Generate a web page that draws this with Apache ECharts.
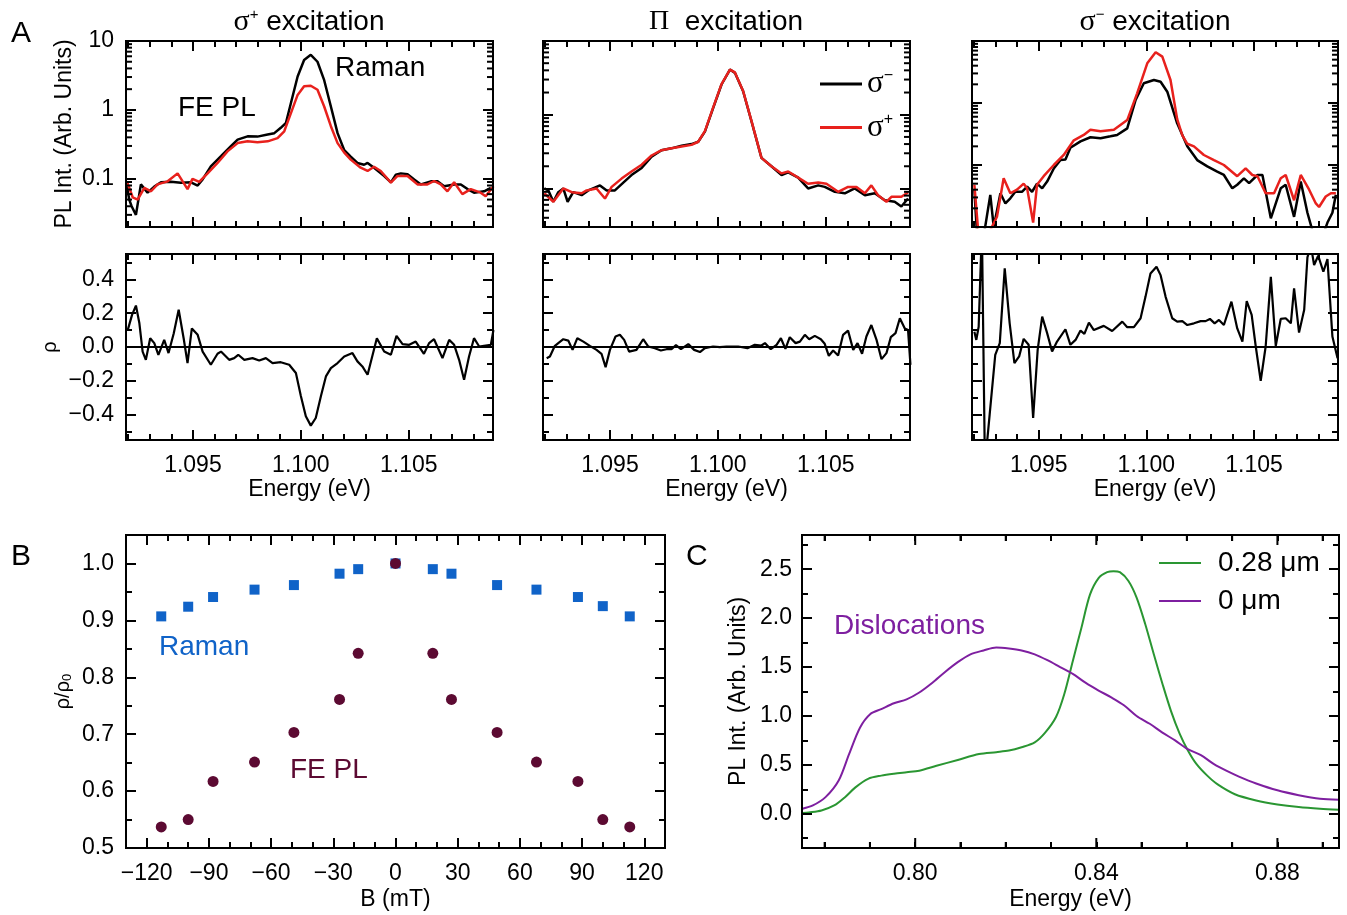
<!DOCTYPE html>
<html>
<head>
<meta charset="utf-8">
<script src="https://cdn.jsdelivr.net/npm/echarts@6/dist/echarts.min.js"></script>
<style>
  html, body { margin: 0; padding: 0; background: #fff; }
  #main { width: 1347px; height: 915px; }
</style>
</head>
<body>
<div id="main"></div>
<script>
// ---- data ----
// panel A, top row: PL intensity, [energy eV, intensity]
const a1Minus = [[1.09194,0.078],[1.09205,0.05],[1.09216,0.04],[1.09236,0.03],[1.09259,0.083],[1.0929,0.063],[1.09321,0.077],[1.09352,0.089],[1.09398,0.091],[1.09444,0.088],[1.09491,0.089],[1.09522,0.08],[1.09545,0.098],[1.09583,0.152],[1.0963,0.213],[1.09676,0.297],[1.09707,0.37],[1.09753,0.414],[1.09799,0.41],[1.09846,0.44],[1.09877,0.46],[1.09907,0.55],[1.09931,0.65],[1.09954,1.26],[1.09985,3.05],[1.10015,5.3],[1.10046,6.3],[1.10077,5.0],[1.10108,2.7],[1.10139,1.12],[1.1017,0.46],[1.10201,0.26],[1.10231,0.21],[1.10262,0.17],[1.10293,0.16],[1.10309,0.17],[1.10339,0.145],[1.10386,0.11],[1.10417,0.089],[1.1044,0.115],[1.10463,0.12],[1.10494,0.117],[1.10525,0.098],[1.10556,0.083],[1.10602,0.092],[1.10633,0.092],[1.10664,0.078],[1.1071,0.083],[1.10741,0.083],[1.10772,0.071],[1.10802,0.063],[1.10849,0.066],[1.1088,0.074]];
const a1Plus = [[1.09194,0.092],[1.09221,0.054],[1.09244,0.05],[1.09275,0.074],[1.09306,0.066],[1.09336,0.083],[1.09383,0.092],[1.09429,0.12],[1.09475,0.071],[1.09498,0.1],[1.09529,0.09],[1.09568,0.12],[1.09614,0.17],[1.0966,0.25],[1.09707,0.33],[1.09753,0.35],[1.09799,0.34],[1.09846,0.35],[1.09892,0.39],[1.09923,0.49],[1.09954,0.9],[1.09985,1.65],[1.10015,2.2],[1.10046,2.24],[1.10077,1.96],[1.10108,1.12],[1.10139,0.58],[1.1017,0.33],[1.10201,0.24],[1.10231,0.19],[1.10277,0.145],[1.10309,0.13],[1.10339,0.15],[1.1037,0.13],[1.10417,0.088],[1.10448,0.11],[1.10494,0.11],[1.1054,0.083],[1.10586,0.083],[1.10617,0.093],[1.10648,0.083],[1.10679,0.066],[1.1071,0.089],[1.10748,0.06],[1.10787,0.071],[1.10833,0.063],[1.10856,0.056],[1.10892,0.078]];
const a2Minus = [[1.09196,0.1],[1.09215,0.094],[1.09238,0.066],[1.09261,0.089],[1.09284,0.1],[1.09304,0.066],[1.0933,0.089],[1.09369,0.081],[1.094,0.094],[1.09454,0.11],[1.09485,0.094],[1.09523,0.094],[1.09562,0.12],[1.096,0.152],[1.09647,0.19],[1.09693,0.27],[1.09739,0.33],[1.09785,0.35],[1.09832,0.38],[1.09878,0.4],[1.09909,0.43],[1.0994,0.59],[1.09978,1.23],[1.10017,2.57],[1.10056,4.1],[1.10079,3.7],[1.10117,2.08],[1.10156,0.81],[1.10202,0.26],[1.10248,0.2],[1.10295,0.152],[1.10326,0.165],[1.10372,0.14],[1.10418,0.1],[1.10465,0.11],[1.10495,0.105],[1.10542,0.09],[1.10588,0.086],[1.10634,0.1],[1.10681,0.081],[1.10727,0.086],[1.10773,0.069],[1.10819,0.066],[1.1085,0.057],[1.10881,0.073]];
const a2Plus = [[1.09196,0.086],[1.09238,0.066],[1.09284,0.1],[1.09323,0.089],[1.09369,0.086],[1.09392,0.094],[1.09438,0.1],[1.09477,0.073],[1.09508,0.105],[1.09554,0.136],[1.096,0.17],[1.09647,0.21],[1.09693,0.28],[1.09739,0.33],[1.09785,0.35],[1.09832,0.37],[1.09878,0.39],[1.09909,0.43],[1.0994,0.6],[1.09978,1.25],[1.10017,2.6],[1.10056,4.1],[1.10079,3.75],[1.10117,2.1],[1.10156,0.82],[1.10202,0.26],[1.10248,0.2],[1.10295,0.16],[1.10326,0.17],[1.10372,0.14],[1.10418,0.116],[1.10465,0.12],[1.10503,0.116],[1.10557,0.09],[1.10603,0.105],[1.10642,0.105],[1.10681,0.086],[1.10711,0.11],[1.10742,0.081],[1.10781,0.066],[1.10804,0.077],[1.1085,0.077],[1.10881,0.088]];
const a3Minus = [[1.09201,0.04],[1.09213,0.008],[1.09244,0.007],[1.09275,0.033],[1.09291,0.01],[1.09322,0.035],[1.09345,0.024],[1.09368,0.029],[1.09391,0.037],[1.09422,0.037],[1.09446,0.045],[1.09469,0.037],[1.09492,0.05],[1.09516,0.042],[1.09539,0.054],[1.0957,0.088],[1.09601,0.12],[1.09624,0.123],[1.09647,0.19],[1.09694,0.24],[1.0974,0.28],[1.09787,0.27],[1.09833,0.29],[1.09864,0.305],[1.09911,0.39],[1.0995,1.12],[1.09988,2.08],[1.10035,2.35],[1.10066,2.2],[1.10097,1.52],[1.10143,0.47],[1.1019,0.2],[1.10236,0.12],[1.10283,0.095],[1.10329,0.078],[1.1036,0.069],[1.10399,0.042],[1.10422,0.048],[1.10453,0.061],[1.10477,0.051],[1.10516,0.069],[1.10539,0.069],[1.10578,0.0138],[1.10624,0.042],[1.10647,0.048],[1.10686,0.0146],[1.10717,0.054],[1.10748,0.017],[1.10779,0.007],[1.10818,0.007],[1.10841,0.0118],[1.10864,0.017],[1.1088,0.033]];
const a3Plus = [[1.09201,0.048],[1.09221,0.007],[1.0926,0.007],[1.09306,0.0146],[1.09337,0.061],[1.09368,0.035],[1.09399,0.04],[1.0943,0.05],[1.09446,0.042],[1.09474,0.0118],[1.09492,0.048],[1.09523,0.066],[1.0957,0.1],[1.09616,0.145],[1.09663,0.25],[1.09709,0.305],[1.0974,0.37],[1.09787,0.35],[1.09849,0.37],[1.09911,0.53],[1.09957,1.43],[1.10004,4.36],[1.10043,6.6],[1.10074,5.6],[1.10112,2.35],[1.10143,0.55],[1.10167,0.3],[1.1019,0.22],[1.10221,0.2],[1.10267,0.145],[1.10314,0.12],[1.1036,0.1],[1.10422,0.066],[1.10461,0.088],[1.10492,0.069],[1.10516,0.066],[1.10554,0.035],[1.10593,0.035],[1.10624,0.061],[1.10647,0.069],[1.10686,0.027],[1.10717,0.069],[1.10756,0.04],[1.10787,0.024],[1.10802,0.021],[1.10833,0.031],[1.10857,0.035],[1.1088,0.035]];

// panel A, bottom row: polarization rho, [energy eV, rho]
const rho1 = [[1.09198,0.1],[1.09218,0.19],[1.09236,0.245],[1.09252,0.14],[1.09267,-0.027],[1.09282,-0.076],[1.09302,0.052],[1.09321,0.023],[1.0934,-0.046],[1.09367,0.042],[1.09387,-0.036],[1.09411,0.08],[1.09434,0.22],[1.09457,0.052],[1.09475,-0.095],[1.09495,0.11],[1.09522,0.072],[1.09545,-0.027],[1.09583,-0.105],[1.09614,-0.04],[1.0963,-0.027],[1.09668,-0.076],[1.09691,-0.066],[1.0971,-0.046],[1.09738,-0.076],[1.09776,-0.066],[1.09807,-0.08],[1.09838,-0.066],[1.09869,-0.095],[1.09907,-0.09],[1.09946,-0.105],[1.09977,-0.154],[1.1,-0.29],[1.10023,-0.41],[1.10046,-0.465],[1.10069,-0.42],[1.10093,-0.29],[1.10116,-0.174],[1.10139,-0.125],[1.1017,-0.095],[1.10201,-0.056],[1.10239,-0.036],[1.10262,-0.085],[1.10285,-0.115],[1.10309,-0.164],[1.10352,0.052],[1.10386,-0.027],[1.10417,-0.046],[1.10443,0.066],[1.10471,0.017],[1.10502,0.013],[1.10532,0.032],[1.1057,-0.04],[1.10594,0.023],[1.10617,0.046],[1.10656,-0.066],[1.10687,0.042],[1.1071,0.013],[1.10733,-0.076],[1.10756,-0.194],[1.10779,-0.056],[1.10802,0.052],[1.10826,0.003],[1.10856,0.009],[1.1088,0.013],[1.10892,0.1]];
const rho2 = [[1.09207,-0.066],[1.09222,-0.056],[1.09245,0.007],[1.09284,0.046],[1.09307,0.038],[1.09327,-0.017],[1.09349,0.052],[1.09377,0.032],[1.09407,0.007],[1.09438,-0.017],[1.09461,-0.04],[1.0948,-0.119],[1.095,-0.017],[1.09526,0.062],[1.09546,0.072],[1.09566,0.042],[1.09589,-0.027],[1.09623,-0.017],[1.09654,0.046],[1.09677,0.003],[1.09708,-0.007],[1.09736,-0.021],[1.09762,-0.013],[1.09785,-0.013],[1.09806,0.011],[1.09829,-0.013],[1.09863,0.017],[1.0989,-0.017],[1.09917,-0.03],[1.0994,-0.007],[1.09978,0.003],[1.10009,-0.001],[1.1004,0.003],[1.10094,0.003],[1.10137,-0.007],[1.10171,0.013],[1.10202,0.009],[1.10218,0.023],[1.10245,-0.013],[1.10272,0.013],[1.10292,0.052],[1.10313,-0.011],[1.10333,0.058],[1.1036,0.023],[1.1038,0.032],[1.10403,0.072],[1.10423,0.046],[1.10449,0.066],[1.10477,0.046],[1.10495,0.019],[1.10514,-0.052],[1.10534,-0.021],[1.10557,-0.05],[1.1058,0.072],[1.10603,0.097],[1.10627,-0.017],[1.10647,0.023],[1.10668,-0.04],[1.10688,0.062],[1.10711,0.13],[1.10735,0.042],[1.10758,-0.072],[1.10781,-0.036],[1.10801,0.058],[1.10823,0.082],[1.10843,0.17],[1.10866,0.11],[1.10881,0.1],[1.10892,-0.105]];
const rho3 = [[1.09201,0.09],[1.0921,0.042],[1.09221,0.12],[1.09236,0.7],[1.0925,-0.7],[1.09272,-0.4],[1.09298,-0.046],[1.09319,0.023],[1.09342,0.465],[1.09365,0.14],[1.09387,-0.095],[1.09409,-0.056],[1.0943,0.048],[1.09453,0.013],[1.09474,-0.42],[1.09495,-0.017],[1.09516,0.18],[1.09539,0.082],[1.09562,-0.027],[1.09585,0.032],[1.09624,0.105],[1.09647,0.013],[1.09671,0.042],[1.09694,0.097],[1.09712,0.078],[1.09733,0.144],[1.09756,0.1],[1.09802,0.125],[1.09841,0.095],[1.09888,0.15],[1.09911,0.117],[1.09942,0.117],[1.09973,0.17],[1.09996,0.298],[1.10019,0.435],[1.10047,0.475],[1.10066,0.425],[1.10089,0.298],[1.1012,0.17],[1.10143,0.15],[1.10167,0.153],[1.1019,0.13],[1.10221,0.14],[1.10252,0.153],[1.10275,0.153],[1.10295,0.166],[1.10317,0.14],[1.10337,0.16],[1.1036,0.13],[1.10395,0.268],[1.10422,0.11],[1.10446,0.032],[1.10466,0.272],[1.10489,0.19],[1.10508,0.003],[1.10531,-0.2],[1.10554,0.003],[1.10578,0.415],[1.10601,0.007],[1.10624,0.166],[1.10647,0.17],[1.10671,0.14],[1.10686,0.347],[1.10709,0.085],[1.10733,0.22],[1.10748,0.53],[1.10764,0.6],[1.10779,0.485],[1.10798,0.54],[1.10822,0.445],[1.10841,0.52],[1.10864,0.062],[1.10888,-0.066]];

// panel B: normalized polarization vs field
const bField = [-113, -100, -88, -68, -49, -27, -18, 0, 18, 27, 49, 68, 88, 100, 113];
const ramanRho = [0.907, 0.924, 0.941, 0.954, 0.962, 0.982, 0.990, 1.0, 0.990, 0.982, 0.962, 0.954, 0.941, 0.925, 0.907];
const feplRho = [0.537, 0.550, 0.617, 0.651, 0.703, 0.761, 0.842, 1.0, 0.842, 0.761, 0.703, 0.651, 0.617, 0.550, 0.537];

// panel C: PL spectra, [energy eV, intensity]
const pl028 = [[0.7751,0.007],[0.7765,0.014],[0.7793,0.034],[0.7821,0.085],[0.7845,0.17],[0.7868,0.27],[0.7896,0.357],[0.7925,0.39],[0.7953,0.41],[0.7981,0.425],[0.8009,0.44],[0.8047,0.49],[0.8094,0.55],[0.8141,0.61],[0.8179,0.63],[0.8207,0.646],[0.8235,0.68],[0.8264,0.73],[0.8287,0.83],[0.8311,0.99],[0.8329,1.22],[0.8348,1.56],[0.8367,1.9],[0.8386,2.24],[0.8405,2.41],[0.8424,2.47],[0.8438,2.48],[0.8452,2.47],[0.8471,2.38],[0.8489,2.21],[0.8508,1.94],[0.8527,1.63],[0.8546,1.33],[0.8565,1.05],[0.8584,0.82],[0.8602,0.65],[0.8621,0.51],[0.8645,0.39],[0.8668,0.3],[0.8706,0.2],[0.8753,0.136],[0.88,0.095],[0.8847,0.068],[0.8894,0.051],[0.8936,0.041]];
const pl0 = [[0.7751,0.051],[0.7774,0.085],[0.7802,0.17],[0.7831,0.34],[0.7854,0.61],[0.7878,0.88],[0.7901,1.02],[0.7925,1.07],[0.7953,1.13],[0.7981,1.17],[0.8009,1.24],[0.8038,1.34],[0.8066,1.45],[0.8094,1.55],[0.8122,1.63],[0.8151,1.67],[0.8179,1.7],[0.8207,1.69],[0.8235,1.67],[0.8264,1.63],[0.8292,1.57],[0.832,1.5],[0.8348,1.43],[0.8376,1.34],[0.8405,1.26],[0.8433,1.19],[0.8461,1.11],[0.8489,1.0],[0.8518,0.92],[0.8546,0.83],[0.8574,0.75],[0.8602,0.66],[0.8631,0.6],[0.8659,0.51],[0.8687,0.44],[0.8715,0.38],[0.8753,0.31],[0.88,0.24],[0.8847,0.19],[0.8894,0.153],[0.8936,0.143]];

// tick values
const logMinorTicks = [0.02,0.03,0.04,0.05,0.06,0.07,0.08,0.09,0.2,0.3,0.4,0.5,0.6,0.7,0.8,0.9,2,3,4,5,6,7,8,9];
const cEnergyMajor = [0.80, 0.84, 0.88];
const cEnergyMinor = [0.78, 0.79, 0.81, 0.82, 0.83, 0.85, 0.86, 0.87, 0.89];
const logMins = [0.02, 0.03, 0.01];

// ---- style ----
const FONT = '"Liberation Sans", Arial, sans-serif';
const SERIF = '"Liberation Serif", "DejaVu Serif", serif';
const RED = '#e8211d', BLUE = '#1063c8', MAROON = '#5c0a32', GREEN = '#2a9632', PURPLE = '#7e1fa0';

const panels = [
  { left: 126, top: 41,  width: 367, height: 186 },
  { left: 543, top: 41,  width: 367, height: 186 },
  { left: 972, top: 41,  width: 366, height: 186 },
  { left: 126, top: 254, width: 367, height: 186 },
  { left: 543, top: 254, width: 367, height: 186 },
  { left: 972, top: 254, width: 366, height: 186 },
  { left: 126, top: 535, width: 539, height: 313 },
  { left: 802, top: 535, width: 537, height: 313 }
];

const xAxis = [], yAxis = [];
function tickStyle(len) {
  return { show: true, inside: true, length: len, lineStyle: { color: '#000', width: 2 } };
}
function makeAxis(gi, pos, o, withLabels) {
  const a = {
    type: o.type || 'value', gridIndex: gi, position: pos, min: o.min, max: o.max,
    axisLine: { show: true, onZero: false, lineStyle: { color: '#000', width: 2 } },
    axisTick: tickStyle(o.tickLen || 10),
    minorTick: o.minor ? { show: true, splitNumber: o.minor, length: 6, lineStyle: { color: '#000', width: 2 } } : { show: false },
    splitLine: { show: false }, minorSplitLine: { show: false },
    axisLabel: { show: !!withLabels, color: '#000', fontFamily: FONT, fontSize: 23, margin: o.margin || 12,
      showMinLabel: !!o.showMin, showMaxLabel: !!o.showMax },
    z: 6
  };
  if (o.zlevel) a.zlevel = o.zlevel;
  if (o.split) a.splitNumber = o.split;
  if (o.logBase) a.logBase = o.logBase;
  if (o.fmt) a.axisLabel.formatter = o.fmt;
  if (withLabels && o.name) {
    a.name = o.name; a.nameLocation = 'middle'; a.nameGap = o.gap;
    a.nameTextStyle = Object.assign({ color: '#000', fontFamily: FONT, fontSize: 23 }, o.nameStyle || {});
  }
  return a;
}
function addX(gi, o, withLabels) {
  xAxis.push(makeAxis(gi, 'bottom', o, withLabels));
  const idx = xAxis.length - 1;
  xAxis.push(makeAxis(gi, 'top', o, false));
  return idx;
}
function addY(gi, o, withLabels) {
  yAxis.push(makeAxis(gi, 'left', o, withLabels));
  const idx = yAxis.length - 1;
  yAxis.push(makeAxis(gi, 'right', o, false));
  return idx;
}
const minusFmt = d => v => (v < -1e-9 ? '\u2212' : '') + Math.abs(v).toFixed(d);

// tick marks placed through the axis scale on both opposite edges of a grid
function tickSeries(xi, yi, values, dir, len, anchor, zlevel) {
  return {
    type: 'custom', xAxisIndex: xi, yAxisIndex: yi, silent: true, z: 8, zlevel: zlevel || 0, clip: false,
    data: values.map(v => dir === 'y' ? [anchor, v] : [v, anchor]),
    renderItem: function (params, api) {
      const cs = params.coordSys;
      const p = api.coord([api.value(0), api.value(1)]);
      if (dir === 'y') {
        const st = { stroke: '#000', lineWidth: 2, fill: null };
        return { type: 'group', children: [
          { type: 'line', shape: { x1: cs.x, y1: p[1], x2: cs.x + len, y2: p[1] }, style: st },
          { type: 'line', shape: { x1: cs.x + cs.width - len, y1: p[1], x2: cs.x + cs.width, y2: p[1] }, style: st }
        ] };
      }
      return { type: 'group', children: [
        { type: 'rect', shape: { x: p[0] - 1, y: cs.y + cs.height - len, width: 2, height: len }, style: { fill: '#000' } },
        { type: 'rect', shape: { x: p[0] - 1, y: cs.y, width: 2, height: len }, style: { fill: '#000' } }
      ] };
    }
  };
}

const energyAxis = { min: 1.0919, max: 1.1089, split: 3, minor: 5, fmt: v => v.toFixed(3),
  name: 'Energy (eV)', gap: 38, margin: 14 };
const rhoAxis = { min: -0.55, max: 0.55, split: 5, minor: 2, fmt: minusFmt(1),
  name: '\u03c1', gap: 66, nameStyle: { fontSize: 20 } };

const series = [];

// top row: log spectra
const topPairs = [[a1Minus, a1Plus], [a2Minus, a2Plus], [a3Minus, a3Plus]];
for (let i = 0; i < 3; i++) {
  const xi = addX(i, energyAxis, false);
  const yi = addY(i, {
    type: 'log', logBase: 10, min: logMins[i], max: 10, showMax: true,
    fmt: v => (v >= 1 ? v.toFixed(0) : v.toFixed(1)),
    name: 'PL Int. (Arb. Units)', gap: 50
  }, i === 0);
  series.push({ type: 'line', name: '\u03c3\u2212', xAxisIndex: xi, yAxisIndex: yi, data: topPairs[i][0],
    symbol: 'none', lineStyle: { color: '#000', width: 2.5 }, itemStyle: { color: '#000' }, clip: true, z: 3 });
  series.push({ type: 'line', name: '\u03c3+', xAxisIndex: xi, yAxisIndex: yi, data: topPairs[i][1],
    symbol: 'none', lineStyle: { color: RED, width: 2.5 }, itemStyle: { color: RED }, clip: true, z: 4 });
  const lo = logMins[i];
  series.push(tickSeries(xi, yi, logMinorTicks.filter(v => v > lo && v < 10), 'y', 6, 1.1));
}

// bottom row: rho
const rhoData = [rho1, rho2, rho3];
for (let i = 0; i < 3; i++) {
  const gi = 3 + i;
  const xi = addX(gi, energyAxis, true);
  const yi = addY(gi, rhoAxis, i === 0);
  series.push({ type: 'line', xAxisIndex: xi, yAxisIndex: yi, data: rhoData[i], symbol: 'none',
    lineStyle: { color: '#000', width: 2.2 }, itemStyle: { color: '#000' }, clip: true, z: 3,
    markLine: { silent: true, symbol: 'none', label: { show: false },
      lineStyle: { color: '#000', width: 2, type: 'solid' }, data: [{ yAxis: 0 }] } });
}

// panel B
{
  const xi = addX(6, { min: -130, max: 130, split: 9, minor: 3, fmt: minusFmt(0),
    name: 'B (mT)', gap: 40, margin: 14 }, true);
  const yi = addY(6, { min: 0.5, max: 1.05, split: 5, minor: 2, showMin: true, fmt: v => v.toFixed(1),
    name: '{g|\u03c1/\u03c1}{s|0}', gap: 52,
    nameStyle: { rich: { g: { fontFamily: FONT, fontSize: 20, color: '#000' }, s: { fontFamily: FONT, fontSize: 13, color: '#000', padding: [8, 0, 0, 0] } } } }, true);
  series.push({ type: 'scatter', name: 'Raman', xAxisIndex: xi, yAxisIndex: yi, symbol: 'rect', symbolSize: 10,
    itemStyle: { color: BLUE, opacity: 1 }, data: bField.map((b, k) => [b, ramanRho[k]]), z: 3 });
  series.push({ type: 'scatter', name: 'FE PL', xAxisIndex: xi, yAxisIndex: yi, symbol: 'circle', symbolSize: 11,
    itemStyle: { color: MAROON, opacity: 1 }, data: bField.map((b, k) => [b, feplRho[k]]), z: 4 });
}

// panel C (its x ticks are drawn on a separate layer so nothing can cover them)
{
  const xi = addX(7, { min: 0.775, max: 0.8936, split: 12, tickLen: 6, zlevel: 1,
    fmt: v => { const k = Math.round(v * 100); return (k % 4 === 0 && Math.abs(v * 100 - k) < 1e-6) ? v.toFixed(2) : ''; },
    name: 'Energy (eV)', gap: 40, margin: 14 }, true);
  const yi = addY(7, { min: -0.35, max: 2.85, split: 7, minor: 2, fmt: v => v.toFixed(1),
    name: 'PL Int. (Arb. Units)', gap: 52, margin: 10 }, true);
  series.push(tickSeries(xi, yi, cEnergyMajor, 'x', 10, 1, 1));
  series.push(tickSeries(xi, yi, cEnergyMinor, 'x', 6, 1, 1));
  series.push({ type: 'line', name: '0.28 \u03bcm', xAxisIndex: xi, yAxisIndex: yi, data: pl028, symbol: 'none',
    smooth: 0.3, lineStyle: { color: GREEN, width: 2 }, itemStyle: { color: GREEN }, z: 3 });
  series.push({ type: 'line', name: '0 \u03bcm', xAxisIndex: xi, yAxisIndex: yi, data: pl0, symbol: 'none',
    smooth: 0.3, lineStyle: { color: PURPLE, width: 2 }, itemStyle: { color: PURPLE }, z: 3 });
}

function txt(x, y, text, size, color) {
  return { type: 'text', x: x, y: y, z: 10,
    style: { text: text, fill: color || '#000', font: size + 'px ' + FONT, align: 'left', verticalAlign: 'middle' } };
}
function richTitle(x, y, text) {
  return { type: 'text', x: x, y: y, z: 10,
    style: { text: text, align: 'center', verticalAlign: 'middle', fill: '#000',
      rich: {
        g: { fontFamily: SERIF, fontSize: 30, fill: '#000' },
        p: { fontFamily: SERIF, fontSize: 28, fill: '#000' },
        s: { fontFamily: FONT, fontSize: 15, fill: '#000', padding: [0, 0, 14, 0] },
        t: { fontFamily: FONT, fontSize: 28, fill: '#000' }
      } } };
}

const option = {
  animation: false,
  backgroundColor: '#fff',
  grid: panels.map(p => ({ left: p.left, top: p.top, width: p.width, height: p.height, show: true,
    borderColor: '#000', borderWidth: 2, backgroundColor: 'transparent', containLabel: false, outerBoundsMode: 'none' })),
  xAxis: xAxis,
  yAxis: yAxis,
  legend: [
    { data: ['\u03c3\u2212', '\u03c3+'], orient: 'vertical', left: 815, top: 63, icon: 'rect', itemWidth: 42, itemHeight: 3, itemGap: 12,
      formatter: n => n === '\u03c3+' ? '{g|\u03c3}{s|+}' : '{g|\u03c3}{s|\u2212}',
      textStyle: { rich: {
        g: { fontFamily: SERIF, fontSize: 31, color: '#000' },
        s: { fontFamily: FONT, fontSize: 16, color: '#000', padding: [0, 0, 16, 0] } } },
      selectedMode: false },
    { data: ['0.28 \u03bcm', '0 \u03bcm'], orient: 'vertical', left: 1154, top: 544, icon: 'rect', itemWidth: 42, itemHeight: 2, itemGap: 10,
      textStyle: { color: '#000', fontFamily: FONT, fontSize: 28, padding: [0, 0, 0, 12] },
      selectedMode: false }
  ],
  graphic: [
    txt(11, 34, 'A', 30),
    txt(11, 557, 'B', 30),
    txt(686, 557, 'C', 30),
    richTitle(309, 22, '{g|\u03c3}{s|+}{t| excitation}'),
    richTitle(726, 22, '{p|\u03a0}{t|  excitation}'),
    richTitle(1155, 22, '{g|\u03c3}{s|\u2212}{t| excitation}'),
    txt(335, 68, 'Raman', 28),
    txt(178, 108, 'FE PL', 28),
    txt(159, 647, 'Raman', 28, BLUE),
    txt(290, 770, 'FE PL', 28, MAROON),
    txt(834, 626, 'Dislocations', 28, PURPLE)
  ],
  series: series
};

const chart = echarts.init(document.getElementById('main'));
chart.setOption(option);
</script>
</body>
</html>
